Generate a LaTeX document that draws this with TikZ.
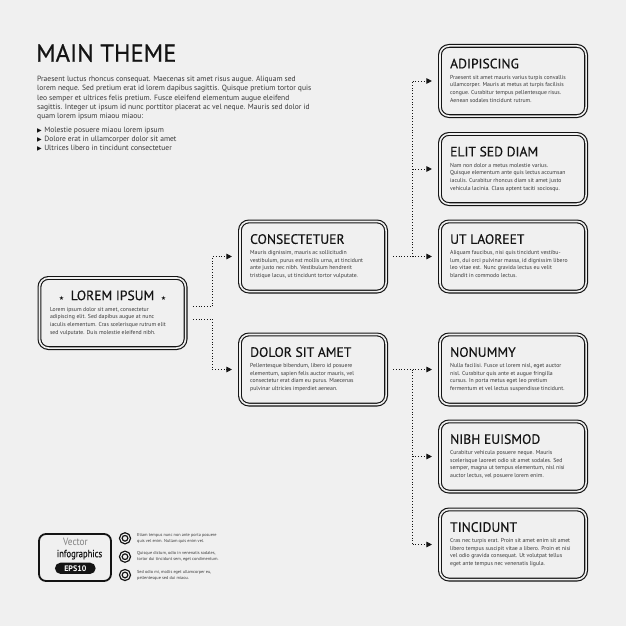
\documentclass[tikz,border=0pt]{standalone}
\usepackage{fontspec}
\setmainfont{PT Sans}
\newfontfamily\djv{DejaVu Sans}
\newfontfamily\tfont[FakeBold=0.35]{PT Sans}
\newfontfamily\mfont[FakeBold=0.6]{PT Sans}
\usetikzlibrary{arrows.meta,calc}
\definecolor{bg}{RGB}{240,240,240}
\definecolor{txt}{RGB}{55,55,55}
\definecolor{ink}{RGB}{20,20,20}
\tikzset{
 boxs/.style={draw=ink, double=bg, line width=1.15pt, double distance=1.6pt, rounded corners=9pt, minimum width=146.1pt, minimum height=70.1pt, inner sep=0pt, outer sep=0pt},
 ttl/.style={anchor=base west, inner sep=0pt, text=ink, font=\tfont\fontsize{13.6}{13.6}\selectfont},
 bdy/.style={anchor=north west, inner sep=0pt, align=left, text=txt, font=\fontsize{5.75}{7.7}\selectfont},
 conn/.style={draw=ink, line width=1pt, dash pattern=on 1pt off 1.8pt, -{Triangle[length=5.5pt,width=5.5pt]}},
 dline/.style={draw=ink, line width=1pt, dash pattern=on 1pt off 1.8pt},
 ring/.style={circle, draw=ink, double=bg, line width=1.3pt, double distance=1.1pt, minimum size=8.4pt, inner sep=0pt},
 small/.style={anchor=west, align=left, inner sep=0pt, text=txt, font=\fontsize{4.3}{6}\selectfont},
}
\newcommand\ibox[5]{%
 \node[boxs] (#1) at (#2,#3) {};
 \node[ttl] (#1t) at ([xshift=10pt,yshift=-22.4pt]#1.north west) {#4};
 \node[bdy] (#1b) at ([xshift=10pt,yshift=-28.8pt]#1.north west) {#5};
}
\begin{document}
\begin{tikzpicture}[x=1pt,y=-1pt]
\fill[bg] (0,0) rectangle (626,626);
\useasboundingbox (0,0) rectangle (626,626);

\node[anchor=base west, inner sep=0pt, text=ink, font=\mfont\fontsize{24.6}{24.6}\selectfont] (title) at (36,61.7) {MAIN THEME};
\node[anchor=north west, inner sep=0pt, align=left, text=txt, font=\fontsize{7.55}{9.3}\selectfont] (para) at (37,76) {Praesent luctus rhoncus consequat. Maecenas sit amet risus augue. Aliquam sed\\lorem neque. Sed pretium erat id lorem dapibus sagittis. Quisque pretium tortor quis\\leo semper et ultrices felis pretium. Fusce eleifend elementum augue eleifend\\sagittis. Integer ut ipsum id nunc porttitor placerat ac vel neque. Mauris sed dolor id\\quam lorem ipsum miaou miaou:};
\node[anchor=north west, inner sep=0pt, align=left, text=txt, font=\fontsize{7.55}{9.3}\selectfont] (bul) at (37,126.5) {{\djv\fontsize{6}{6}\selectfont\color{ink}▶}\hspace{2.5pt}Molestie posuere miaou lorem ipsum\\{\djv\fontsize{6}{6}\selectfont\color{ink}▶}\hspace{2.5pt}Dolore erat in ullamcorper dolor sit amet\\{\djv\fontsize{6}{6}\selectfont\color{ink}▶}\hspace{2.5pt}Ultrices libero in tincidunt consectetuer};

% left box
\node[boxs] (lorem) at (112.5,313) {};
\node[anchor=base, inner sep=0pt, text=ink, font=\tfont\fontsize{13.6}{13.6}\selectfont] (loremt) at ([yshift=-22.2pt]lorem.north) {{\djv\fontsize{6}{6}\selectfont ★}\hspace{6.5pt}LOREM IPSUM\hspace{6.5pt}{\djv\fontsize{6}{6}\selectfont ★}};
\node[bdy] (loremb) at ([xshift=10.4pt,yshift=-28.8pt]lorem.north west) {Lorem ipsum dolor sit amet, consectetur\\adipiscing elit. Sed dapibus augue at nunc\\iaculis elementum. Cras scelerisque rutrum elit\\sed vulputate. Duis molestie eleifend nibh.};

\ibox{cons}{313}{256.5}{CONSECTETUER}{Mauris dignissim, mauris ac sollicitudin\\vestibulum, purus est mollis urna, at tincidunt\\ante justo nec nibh. Vestibulum hendrerit\\tristique lacus, ut tincidunt tortor vulputate.}
\ibox{dolor}{313}{369.5}{DOLOR SIT AMET}{Pellentesque bibendum, libero id posuere\\elementum, sapien felis auctor mauris, vel\\consectetur erat diam eu purus. Maecenas\\pulvinar ultricies imperdiet aenean.}
\ibox{adip}{513}{81}{ADIPISCING}{Praesent sit amet mauris varius turpis convallis\\ullamcorper. Mauris at metus at turpis facilisis\\congue. Curabitur tempus pellentesque risus.\\Aenean sodales tincidunt rutrum.}
\ibox{elit}{513}{169}{ELIT SED DIAM}{Nam non dolor a metus molestie varius.\\Quisque elementum ante quis lectus accumsan\\iaculis. Curabitur rhoncus diam sit amet justo\\vehicula lacinia. Class aptent taciti sociosqu.}
\ibox{ut}{513}{256.5}{UT LAOREET}{Aliquam faucibus, nisi quis tincidunt vestibu-\\lum, dui orci pulvinar massa, id dignissim libero\\leo vitae est. Nunc gravida lectus eu velit\\blandit in commodo lectus.}
\ibox{non}{513}{369.5}{NONUMMY}{Nulla facilisi. Fusce ut lorem nisl, eget auctor\\nisl. Curabitur quis ante et augue fringilla\\cursus. In porta metus eget leo pretium\\fermentum et vel lectus suspendisse tincidunt.}
\ibox{nibh}{513}{456.5}{NIBH EUISMOD}{Curabitur vehicula posuere neque. Mauris\\scelerisque laoreet odio sit amet sodales. Sed\\semper, magna ut tempus elementum, nisl nisi\\auctor lectus, vel posuere lorem enim.}
\ibox{tinc}{513}{544.5}{TINCIDUNT}{Cras nec turpis erat. Proin sit amet enim sit amet\\libero tempus suscipit vitae a libero. Proin et nisi\\vel odio gravida consequat. Ut volutpat tellus\\eget ante tempus nec venenatis ligula.}

% connectors
\draw[conn] ([xshift=7.4pt,yshift=6.5pt]lorem.east) -| ([xshift=-27.6pt]cons.west) -- ([xshift=-8pt]cons.west);
\draw[conn] ([xshift=7.4pt,yshift=-6pt]lorem.east) -| ([xshift=-27.6pt]dolor.west) -- ([xshift=-8pt]dolor.west);

\coordinate (jr) at ([xshift=-27.4pt]ut.west);
\draw[conn] ([xshift=7pt]cons.east) -- ([xshift=-8pt]ut.west);
\draw[dline] (jr) -- (jr |- adip.west);
\draw[conn] (jr |- adip.west) -- ([xshift=-8pt]adip.west);
\draw[conn] (jr |- elit.west) -- ([xshift=-8pt]elit.west);

\coordinate (jd) at ([xshift=-27.4pt]non.west);
\draw[conn] ([xshift=7pt]dolor.east) -- ([xshift=-8pt]non.west);
\draw[dline] (jd) -- (jd |- tinc.west);
\draw[conn] (jd |- nibh.west) -- ([xshift=-8pt]nibh.west);
\draw[conn] (jd |- tinc.west) -- ([xshift=-8pt]tinc.west);

% badge
\node[draw=ink, line width=1.8pt, rounded corners=7pt, minimum width=72pt, minimum height=47pt, inner sep=0pt] (badge) at (75,557.5) {};
\node[inner sep=0pt, text=gray, font=\fontsize{10.5}{10.5}\selectfont] (vec) at (75.5,542) {\scalebox{0.88}[1]{Vector}};
\node[inner sep=0pt, text=ink, font=\tfont\fontsize{10.5}{10.5}\selectfont] (info) at (79.5,554.6) {\scalebox{0.82}[1]{infographics}};
\node[fill=ink, rounded corners=5.6pt, minimum width=40.7pt, minimum height=11.3pt, inner sep=0pt, text=white, font=\bfseries\fontsize{8}{8}\selectfont] (eps) at (75.3,568.3) {EPS10};

\node[ring] (c1) at (125,538.3) {};
\node[ring] (c2) at (125,556.7) {};
\node[ring] (c3) at (125,575) {};
\node[small] (s1) at (137,538.3) {Etiam tempus nunc non ante porta posuere\\quis vel enim. Nullam quis enim vel.};
\node[small] (s2) at (137,556.7) {Quisque dictum, odio in venenatis sodales,\\tortor dui tincidunt sem, eget condimentum.};
\node[small] (s3) at (137,575) {Sed odio mi, mollis eget ullamcorper eu,\\pellentesque sed dui miaou.};
\end{tikzpicture}
\end{document}
